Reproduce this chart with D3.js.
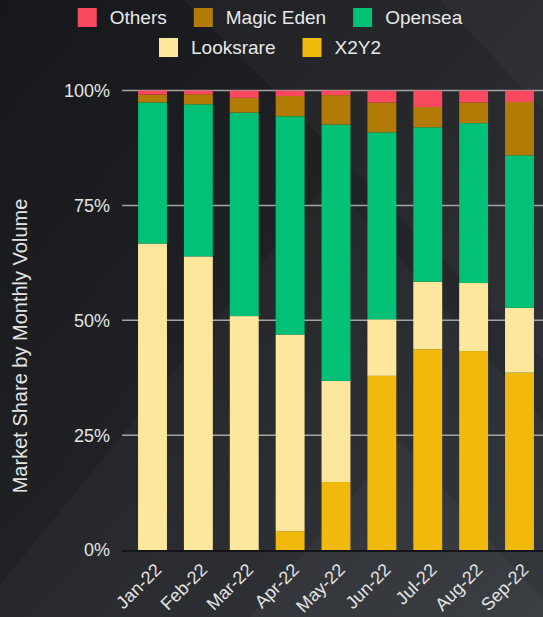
<!DOCTYPE html>
<html>
<head>
<meta charset="utf-8">
<script src="https://cdn.jsdelivr.net/npm/d3@7"></script>
<style>
  html, body { margin: 0; padding: 0; background: #1e2024; }
  svg { display: block; }
  text { font-family: "Liberation Sans", Arial, sans-serif; }
</style>
</head>
<body>
<svg id="chart" width="543" height="617"></svg>
<script>
// ---- data (percent of monthly volume) ----
const months = ["Jan-22", "Feb-22", "Mar-22", "Apr-22", "May-22", "Jun-22", "Jul-22", "Aug-22", "Sep-22"];
const x2y2      = [0, 0, 0, 4.1, 14.8, 37.9, 43.7, 43.3, 38.6];
const looksrare = [66.7, 63.9, 50.9, 42.8, 22.0, 12.3, 14.7, 14.8, 14.1];
const opensea   = [30.7, 33.1, 44.3, 47.5, 55.8, 40.7, 33.6, 34.8, 33.2];
const magicEden = [1.7, 2.2, 3.2, 4.4, 6.4, 6.5, 4.4, 4.5, 11.6];
const others    = [0.9, 0.8, 1.6, 1.2, 1.0, 2.6, 3.6, 2.6, 2.5];
const yTicks = [0, 25, 50, 75, 100];
const legendRows = [["Others", "Magic Eden", "Opensea"], ["Looksrare", "X2Y2"]];
const yTitle = "Market Share by Monthly Volume";

const seriesKeys = ["X2Y2", "Looksrare", "Opensea", "Magic Eden", "Others"];
const seriesVals = { "X2Y2": x2y2, "Looksrare": looksrare, "Opensea": opensea, "Magic Eden": magicEden, "Others": others };
const colors = { "X2Y2": "#f0b90b", "Looksrare": "#fce79c", "Opensea": "#02c076", "Magic Eden": "#b17b06", "Others": "#f84960" };

const table = months.map((m, i) => {
  const row = { month: m };
  seriesKeys.forEach(k => row[k] = seriesVals[k][i]);
  return row;
});

const W = 543, H = 617;
const svg = d3.select("#chart");

// ---- background ----
const defs = svg.append("defs");
const bg = defs.append("linearGradient").attr("id", "bg")
  .attr("x1", "0").attr("y1", "0").attr("x2", "1").attr("y2", "1");
bg.append("stop").attr("offset", "0").attr("stop-color", "#15171b");
bg.append("stop").attr("offset", "0.45").attr("stop-color", "#1f2125");
bg.append("stop").attr("offset", "1").attr("stop-color", "#2f3237");
svg.append("rect").attr("width", W).attr("height", H).attr("fill", "url(#bg)");
const shapes = [
  [[183, 0], [543, 0], [543, 360]],
  [[0, 617], [0, 585], [330, 180], [543, 420], [543, 617]],
  [[440, 0], [543, 0], [543, 110]],
  [[250, 617], [400, 440], [543, 600], [543, 617]]
];
svg.append("g").selectAll("polygon").data(shapes).join("polygon")
  .attr("points", d => d.map(p => p.join(",")).join(" "))
  .attr("fill", "#ffffff").attr("fill-opacity", 0.03);

// ---- scales ----
const x = d3.scaleBand().domain(months).range([122, 550]).paddingInner(0.37).paddingOuter(0.35);
const y = d3.scaleLinear().domain([0, 100]).range([550, 90.5]);

// ---- grid ----
svg.append("g").selectAll("line").data(yTicks.filter(t => t > 0)).join("line")
  .attr("x1", 122).attr("x2", W)
  .attr("y1", d => y(d)).attr("y2", d => y(d))
  .attr("stroke", "#a3a3a3").attr("stroke-width", 1.5);

// ---- bars ----
const stacked = d3.stack().keys(seriesKeys)(table);
svg.append("g").selectAll("g").data(stacked).join("g")
  .attr("fill", d => colors[d.key])
  .selectAll("rect").data(d => d).join("rect")
  .attr("x", d => x(d.data.month))
  .attr("width", x.bandwidth())
  .attr("y", d => y(d[1]))
  .attr("height", d => Math.max(0, y(d[0]) - y(d[1])));

// zero line
svg.append("line").attr("x1", 122).attr("x2", W).attr("y1", y(0) + 1).attr("y2", y(0) + 1)
  .attr("stroke", "#141518").attr("stroke-width", 2);

// ---- y axis labels ----
svg.append("g").selectAll("text").data(yTicks).join("text")
  .attr("x", 110).attr("y", d => y(d)).attr("dy", "0.36em")
  .attr("text-anchor", "end").attr("fill", "#e4e4e4").attr("font-size", 18)
  .text(d => d + "%");

// ---- x axis labels ----
svg.append("g").selectAll("text").data(months).join("text")
  .attr("transform", d => `translate(${x(d) + x.bandwidth() / 2 + 10},${571}) rotate(-45)`)
  .attr("text-anchor", "end").attr("fill", "#e4e4e4").attr("font-size", 18)
  .text(d => d);

// ---- y title ----
svg.append("text")
  .attr("transform", "translate(20,346) rotate(-90)")
  .attr("text-anchor", "middle").attr("dy", "0.35em")
  .attr("fill", "#e4e4e4").attr("font-size", 20)
  .text(yTitle);

// ---- legend ----
const legend = svg.append("g");
const box = 19, gapText = 13, gapItem = 27, cx = 270;
legendRows.forEach((row, ri) => {
  const g = legend.append("g");
  const items = row.map(name => {
    const t = g.append("text").attr("font-size", 19).attr("fill", "#e8e8e8").text(name);
    return { name, t, w: t.node().getComputedTextLength() };
  });
  const total = items.reduce((s, it) => s + box + gapText + it.w, 0) + gapItem * (items.length - 1);
  let xp = cx - total / 2;
  const rowY = 8 + ri * 30;
  items.forEach(it => {
    g.append("rect").attr("x", xp).attr("y", rowY).attr("width", box).attr("height", box)
      .attr("fill", colors[it.name]);
    it.t.attr("x", xp + box + gapText).attr("y", rowY + 16);
    xp += box + gapText + it.w + gapItem;
  });
});
</script>
</body>
</html>
